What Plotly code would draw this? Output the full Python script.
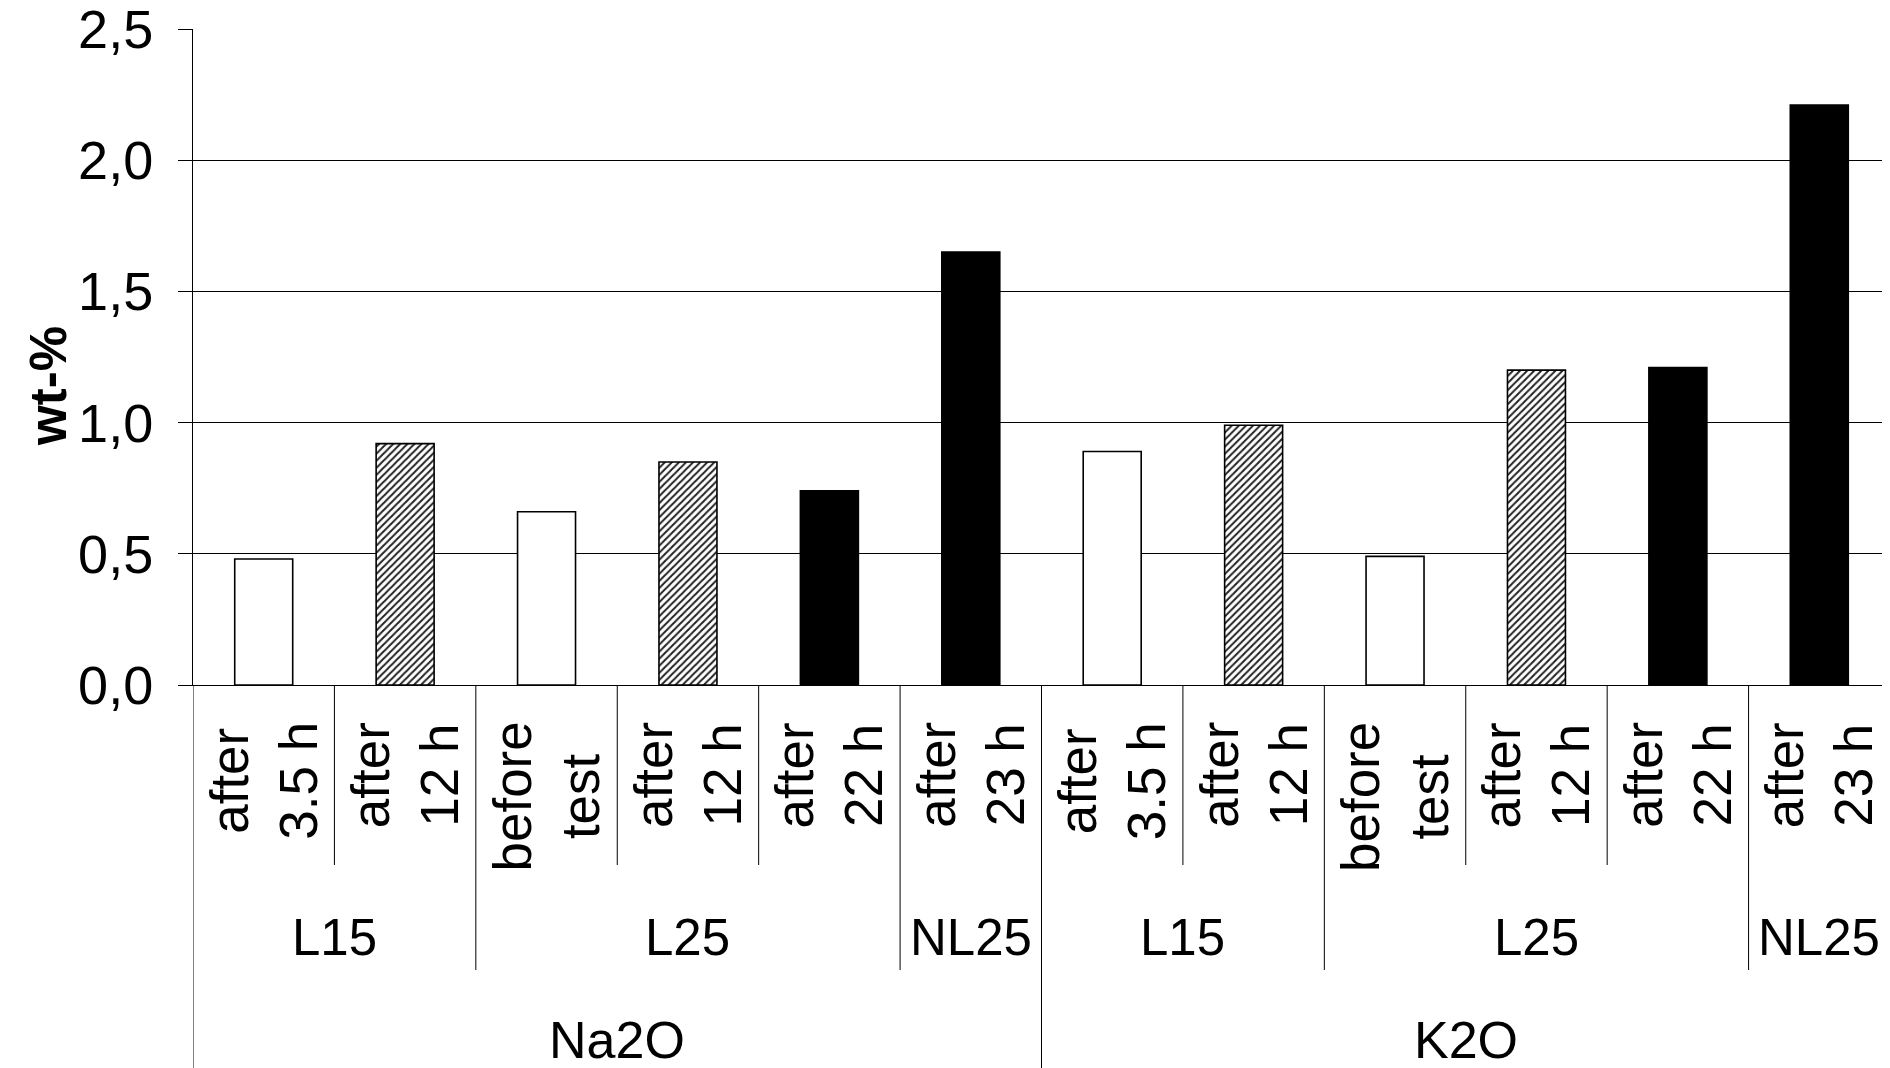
import plotly.graph_objects as go

# ---- data ----
oxide = ["Na2O"] * 6 + ["K2O"] * 6
sample = ["L15", "L15", "L25", "L25", "L25", "NL25"] * 2
stage = ["after<br>3.5 h", "after<br>12 h", "before<br>test",
         "after<br>12 h", "after<br>22 h", "after<br>23 h"] * 2
wt = [0.48, 0.92, 0.66, 0.85, 0.74, 1.65,
      0.89, 0.99, 0.49, 1.20, 1.21, 2.21]
y_ticks = [0.0, 0.5, 1.0, 1.5, 2.0, 2.5]

# fill style per stage
style = {
    "after<br>3.5 h": ("white", ""),
    "before<br>test": ("white", ""),
    "after<br>12 h": ("white", "/"),
    "after<br>22 h": ("black", ""),
    "after<br>23 h": ("black", ""),
}

# page body has an 8px margin -> compensate so the chart lands where it should
OFF = 8
SCR_W, SCR_H = 1890, 1068
W, H = SCR_W - OFF, SCR_H - OFF
AX_LEFT, AX_TOP, AX_ZERO = 193, 29, 685          # screen pixels
M_L, M_R, M_T = AX_LEFT - OFF, 0, AX_TOP - OFF
M_B = H - (AX_ZERO - OFF)
PLOT_H = AX_ZERO - AX_TOP
PLOT_W = SCR_W - AX_LEFT


def py(ypx):
    """screen pixel row -> paper y"""
    return (AX_ZERO - ypx) / PLOT_H


def px(xpx):
    return (xpx - AX_LEFT) / PLOT_W


n = len(wt)
idx = list(range(n))

fig = go.Figure()
for key, (col, shp) in style.items():
    xs = [i for i in idx if stage[i] == key]
    ys = [wt[i] for i in idx if stage[i] == key]
    marker = dict(color=col, line=dict(color="black", width=1.6))
    if shp:
        marker["pattern"] = dict(shape=shp, fgcolor="#222222", fgopacity=1,
                                 size=5, solidity=0.4, fillmode="overlay")
    fig.add_trace(go.Bar(x=xs, y=ys, width=0.41, marker=marker,
                         hoverinfo="skip"))


def runs(keys):
    out = []
    start = 0
    for i in range(1, len(keys) + 1):
        if i == len(keys) or keys[i] != keys[start]:
            out.append((start, i - 1, keys[start]))
            start = i
    return out


runs3 = runs(oxide)
runs2 = runs(list(zip(oxide, sample)))
b3 = set()
for s, e, _ in runs3:
    b3.update([s, e + 1])
b2 = set()
for s, e, _ in runs2:
    b2.update([s, e + 1])

LVL1_BOTTOM = 865
LVL2_BOTTOM = 970
LVL3_BOTTOM = 1068

shapes = []
for b in range(n + 1):
    if b in b3:
        yb = LVL3_BOTTOM
    elif b in b2:
        yb = LVL2_BOTTOM
    else:
        yb = LVL1_BOTTOM
    shapes.append(dict(type="line", xref="x", yref="paper",
                       x0=b - 0.5, x1=b - 0.5, y0=0, y1=py(yb),
                       line=dict(color="black", width=1)))

FONT = "Liberation Sans, Arial, sans-serif"

annotations = []
for i, s in enumerate(stage):
    annotations.append(dict(x=i, xref="x", y=py(720), yref="paper",
                            text=s, showarrow=False, textangle=-90,
                            xanchor="center", yanchor="top", align="center",
                            font=dict(family=FONT, size=53, color="black")))
for s, e, key in runs2:
    annotations.append(dict(x=(s + e) / 2, xref="x", y=py(937), yref="paper",
                            text=key[1], showarrow=False,
                            xanchor="center", yanchor="middle",
                            font=dict(family=FONT, size=51, color="black")))
for s, e, key in runs3:
    annotations.append(dict(x=(s + e) / 2, xref="x", y=py(1040), yref="paper",
                            text=key, showarrow=False,
                            xanchor="center", yanchor="middle",
                            font=dict(family=FONT, size=52, color="black")))
annotations.append(dict(x=px(48), xref="paper", y=py(386), yref="paper",
                        text="<b>wt-%</b>", showarrow=False, textangle=-90,
                        xanchor="center", yanchor="middle",
                        font=dict(family=FONT, size=51, color="black")))

fig.update_layout(
    width=W, height=H,
    margin=dict(l=M_L, r=M_R, t=M_T, b=M_B, autoexpand=False),
    paper_bgcolor="white", plot_bgcolor="white",
    separators=",.",
    showlegend=False,
    shapes=shapes,
    annotations=annotations,
    barmode="overlay",
)
fig.update_xaxes(range=[-0.5, n - 0.5], showticklabels=False, ticks="",
                 showgrid=False, zeroline=False, showline=True,
                 linecolor="black", linewidth=1, automargin=False)
fig.update_yaxes(range=[0, 2.5], tickvals=y_ticks, tickformat=".1f",
                 ticks="outside", ticklen=14, tickcolor="black", tickwidth=1,
                 showgrid=True, gridcolor="black", gridwidth=1,
                 zeroline=False, showline=True, linecolor="black", linewidth=1,
                 ticklabelstandoff=14, automargin=False,
                 ticklabeloverflow="allow",
                 tickfont=dict(family=FONT, size=54, color="black"))

fig.write_html("out.html")
